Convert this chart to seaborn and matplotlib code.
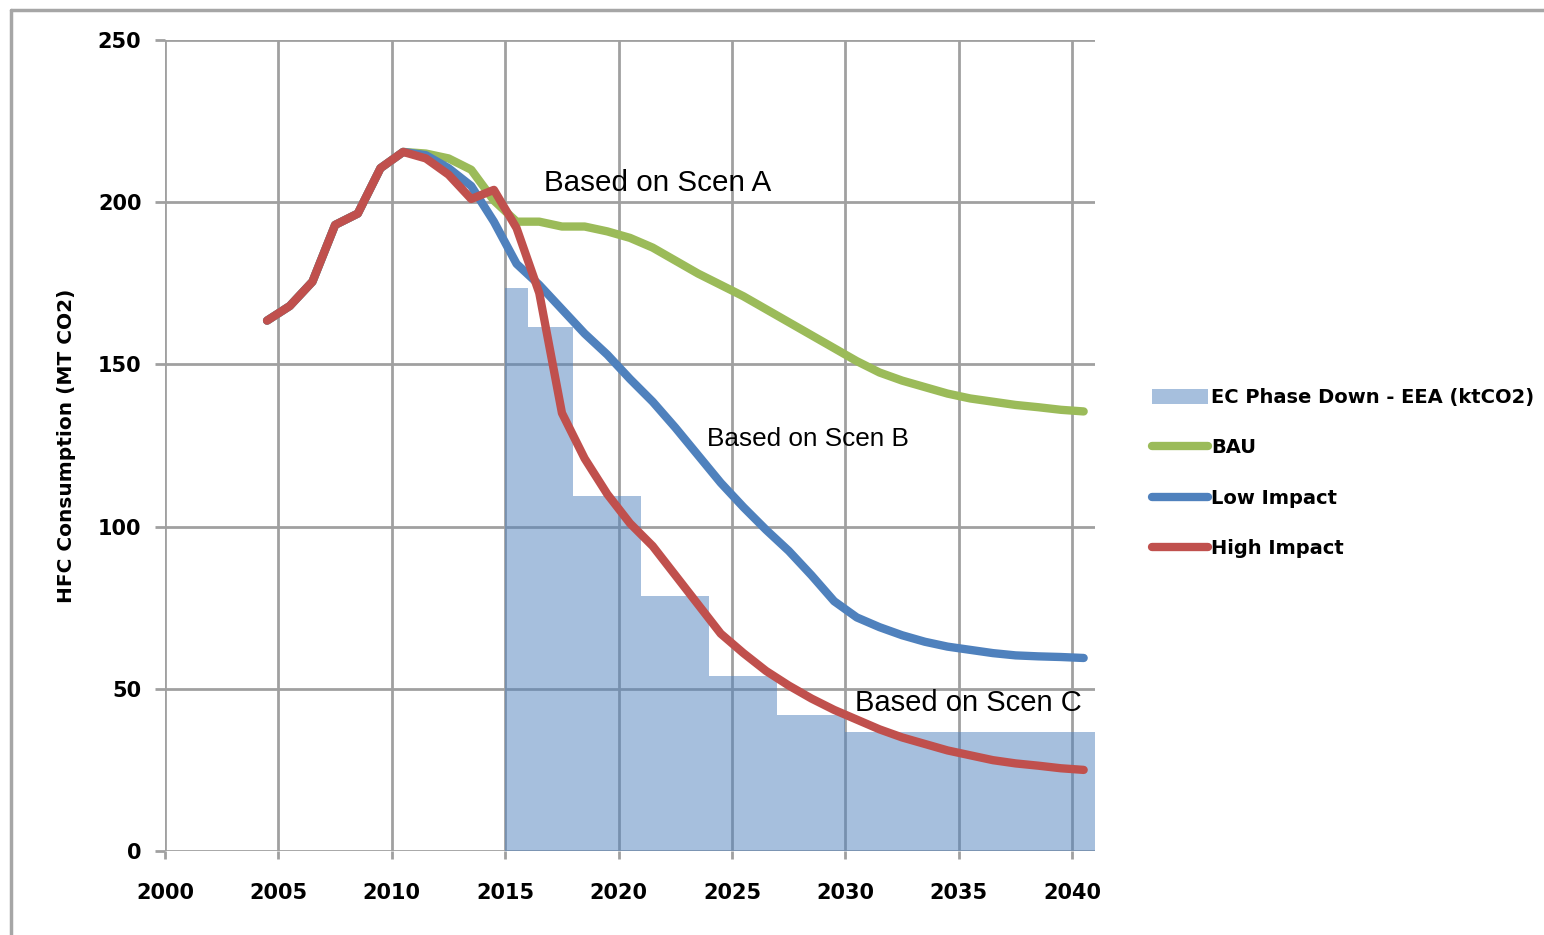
import numpy as np
import pandas as pd
import seaborn as sns
import matplotlib.pyplot as plt
from matplotlib.lines import Line2D
from matplotlib.patches import Patch

# Years (mid-year points, as in the original spreadsheet chart)
years = [y + 0.5 for y in range(2004, 2041)]

# Historic part shared by all scenarios (2004.5 - 2010.5)
history = [163.5, 168, 175.5, 193, 196.5, 210.5, 215.5]

bau = history + [215, 213.5, 210, 200.5, 194, 194, 192.5, 192.5, 191, 189,
                 186, 182, 178, 174.5, 171, 167, 163, 159, 155, 151,
                 147.5, 145, 143, 141, 139.5, 138.5, 137.5, 136.8, 136, 135.5]

low_impact = history + [214.5, 210.5, 205, 194, 181, 174.5, 167, 159.5, 153, 145.5,
                        138.5, 130.5, 122, 113.5, 106, 99, 92.5, 85, 77, 72,
                        69, 66.5, 64.5, 63, 62, 61, 60.3, 60, 59.8, 59.5]

high_impact = history + [213.5, 208.5, 201, 203.8, 192, 172, 135, 121, 110, 101,
                         94, 85, 76, 67, 61, 55.5, 51, 47, 43.5, 40.5,
                         37.5, 35, 33, 31, 29.5, 28, 27, 26.3, 25.5, 25]

# EC phase down (EEA) steps
phase_edges = [2015, 2016, 2018, 2021, 2024, 2027, 2030, 2041]
phase_values = [173.5, 161.5, 109.5, 78.5, 54, 42, 36.7]

series_names = ["BAU", "Low Impact", "High Impact"]
series_colors = ["#9bbb59", "#4f81bd", "#c0504d"]

df = pd.DataFrame({
    "Year": years * 3,
    "Value": bau + low_impact + high_impact,
    "Scenario": [series_names[0]] * len(years) + [series_names[1]] * len(years)
                + [series_names[2]] * len(years),
})

sns.set_style("white")
fig = plt.figure(figsize=(15.44, 9.35), dpi=100)
ax = fig.add_axes([165 / 1544, 1 - 851 / 935, (1095 - 165) / 1544, (851 - 40) / 935])

grid_col = "#a0a0a0"

# Phase down area (semi transparent so the grid shows through)
ax.stairs(phase_values, phase_edges, fill=True, color="#4f81bd", alpha=0.5,
          linewidth=0, zorder=3)

# Scenario lines
sns.lineplot(data=df, x="Year", y="Value", hue="Scenario", hue_order=series_names,
             palette=series_colors, linewidth=6, legend=False, ax=ax,
             solid_capstyle="round", solid_joinstyle="round", zorder=4)

# Axes, grid, ticks
ax.set_xlim(2000, 2041)
ax.set_ylim(0, 250)
ax.set_xticks(range(2000, 2041, 5))
ax.set_yticks(range(0, 251, 50))
ax.grid(True, color=grid_col, linewidth=2, zorder=1)
ax.set_axisbelow(True)
for s in ax.spines.values():
    s.set_visible(False)
ax.tick_params(axis="both", which="both", direction="out", color=grid_col,
               width=2, labelsize=15, labelcolor="black")
ax.tick_params(axis="x", length=6, pad=17, bottom=True)
ax.tick_params(axis="y", length=7, pad=10, left=True)
for lab in ax.get_xticklabels() + ax.get_yticklabels():
    lab.set_fontweight("bold")

ax.set_xlabel("")
ax.set_ylabel("HFC Consumption (MT CO2)", fontsize=14.5, fontweight="bold",
              color="black", labelpad=16)

# Scenario annotations
ann_font = dict(family="Liberation Sans", va="center", ha="left", color="black", zorder=6)
ax.text(2016.7, 206, "Based on Scen A", fontsize=21.3, **ann_font)
ax.text(2023.9, 127, "Based on Scen B", fontsize=18.8, **ann_font)
ax.text(2030.4, 45.6, "Based on Scen C", fontsize=21, **ann_font)

# Legend
handles = [Patch(facecolor="#4f81bd", alpha=0.5, edgecolor="none")]
handles += [Line2D([0], [0], color=c, lw=6, solid_capstyle="round") for c in series_colors]
labels = ["EC Phase Down - EEA (ktCO2)"] + series_names
leg = fig.legend(handles, labels, loc="center left",
                 bbox_to_anchor=(1134 / 1544, 1 - 473 / 935),
                 frameon=False, handlelength=2.9, handleheight=0.75,
                 handletextpad=0.15, labelspacing=1.6,
                 prop={"size": 14, "weight": "bold"})
for t in leg.get_texts():
    t.set_color("black")

# Outer frame (top and left edges)
fig.add_artist(Line2D([11 / 1544, 11 / 1544], [0, 1 - 10 / 935],
                      transform=fig.transFigure, color="#a6a6a6", lw=2.5))
fig.add_artist(Line2D([11 / 1544, 1], [1 - 10 / 935, 1 - 10 / 935],
                      transform=fig.transFigure, color="#a6a6a6", lw=2.5))

fig.savefig("out.png", dpi=100)
